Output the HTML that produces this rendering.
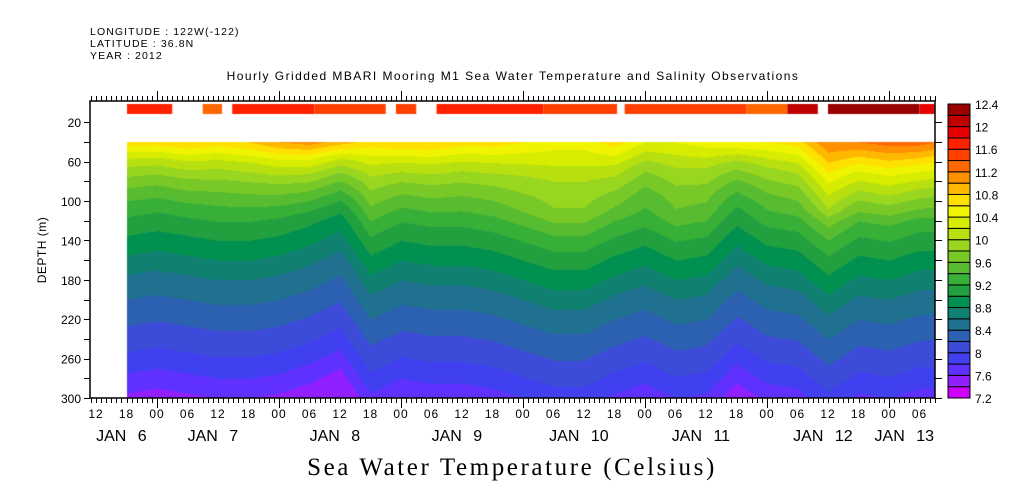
<!DOCTYPE html>
<html><head><meta charset="utf-8">
<style>
body{margin:0;background:#fff;width:1009px;height:504px;overflow:hidden;font-family:"Liberation Sans",sans-serif;}
#wrap{position:relative;width:1009px;height:504px;}
canvas{position:absolute;left:0;top:0;}
svg{position:absolute;left:0;top:0;}
</style></head><body>
<div id="wrap">
<canvas id="field" width="1009" height="504"></canvas>
<svg id="ax" width="1009" height="504">
<text x="90" y="35" font-size="10.5" letter-spacing="1.1">LONGITUDE : 122W(-122)</text>
<text x="90" y="47" font-size="10.5" letter-spacing="1.1">LATITUDE : 36.8N</text>
<text x="90" y="59" font-size="10.5" letter-spacing="1.1">YEAR : 2012</text>
<text x="513" y="80" font-size="12" letter-spacing="1.45" text-anchor="middle">Hourly Gridded MBARI Mooring M1 Sea Water Temperature and Salinity Observations</text>
<text x="46" y="250" font-size="12" letter-spacing="0.5" text-anchor="middle" transform="rotate(-90 46 250)">DEPTH (m)</text>
<text x="512" y="475" font-size="25" font-family="Liberation Serif, serif" letter-spacing="2.6" text-anchor="middle">Sea Water Temperature (Celsius)</text>
</svg>
</div>
<script>
// ---- data ----
const times = [18,24,30,36,42,48,54,60,66,72,78,84,90,96,102,108,114,120,126,132,138,144,150,156,162,168,174,177];
const heave = [0,-5,0,5,5,0,-10,-25,20,5,10,10,15,25,35,35,20,10,25,20,-10,10,15,40,20,25,15,15];
const surfAnom = [0,0,0.1,0,0.1,0.3,0.4,0.2,0,0.1,0.1,0,0,-0.1,-0.2,-0.2,0,-0.3,-0.3,-0.2,-0.1,-0.1,0,0.5,0.5,0.6,0.6,0.5];
const baseDepths = [40,60,80,100,120,140,160,180,200,220,240,260,280,300];
const baseTemps = [10.7,10.1,9.7,9.4,9.15,8.95,8.75,8.55,8.4,8.25,8.1,7.95,7.75,7.55];
const sstStart = [18,33,38.8,55,71,79,100,116,140,148,156,174];
const sstEnd   = [27,36.8,55,69,75,100,114.5,140,148,154,174,177];
const sstVal   = [11.7,11.3,11.6,11.5,11.5,11.7,11.5,11.5,11.3,12.0,12.3,11.9];
const levels = [7.2,7.4,7.6,7.8,8.0,8.2,8.4,8.6,8.8,9.0,9.2,9.4,9.6,9.8,10.0,10.2,10.4,10.6,10.8,11.0,11.2,11.4,11.6,11.8,12.0,12.2,12.4];
const colors = ["#cc00ff","#9020ff","#6030ff","#4040f0","#3c4cd8","#2c60b0","#207090","#108070","#009050","#22a040","#38b038","#58bc30","#78c828","#98d620","#b8e010","#d6ec00","#f0f400","#ffe000","#ffb800","#ff9000","#ff6800","#ff4000","#ff2000","#e80000","#c00000","#990000"];
const xTickLabels = ["12","18","00","06","12","18","00","06","12","18","00","06","12","18","00","06","12","18","00","06","12","18","00","06","12","18","00","06"];
const dateLabels = ["JAN  6","JAN  7","JAN  8","JAN  9","JAN 10","JAN 11","JAN 12","JAN 13"];
const dateHours = [17,35,59,83,107,131,155,171];
const yTicks = [20,60,100,140,180,220,260,300];
const cbLabels = ["7.2","7.6","8","8.4","8.8","9.2","9.6","10","10.4","10.8","11.2","11.6","12","12.4"];

// ---- scales ----
const X0=90, X1=935, Y0=101, Y1=398;
function xs(h){return 157+(h-24)*122/24;}
function ys(d){return 102.5+d*0.985;}
function interp(arrX,arrY,v){
  if(v<=arrX[0])return arrY[0];
  for(let i=1;i<arrX.length;i++){if(v<=arrX[i]){const f=(v-arrX[i-1])/(arrX[i]-arrX[i-1]);return arrY[i-1]+f*(arrY[i]-arrY[i-1]);}}
  return arrY[arrY.length-1];
}
function colorFor(t){let i=0;while(i<colors.length-1&&t>=levels[i+1])i++;return colors[i];}
function hexRGB(h){return [parseInt(h.substr(1,2),16),parseInt(h.substr(3,2),16),parseInt(h.substr(5,2),16)];}

// ---- field ----
const cv=document.getElementById('field');const ctx=cv.getContext('2d');
ctx.fillStyle="#fff";ctx.fillRect(0,0,1009,504);
const img=ctx.getImageData(0,0,1009,504);
const xa=Math.round(xs(times[0])), xb=X1;
const yTop=Math.round(ys(40));
for(let x=xa;x<xb;x++){
  const h=24+(x-157)*24/122;
  const hv=interp(times,heave,h), sa=interp(times,surfAnom,h);
  for(let y=yTop;y<Y1;y++){
    const d=(y-102.5)/0.985;
    const sc=Math.max(0,Math.min(1,(d-40)/70));
    let t=interp(baseDepths,baseTemps,d-hv*sc);
    const w=Math.max(0,1-(d-40)/80);
    t+=sa*w;
    const c=hexRGB(colorFor(t));const k=(y*1009+x)*4;
    img.data[k]=c[0];img.data[k+1]=c[1];img.data[k+2]=c[2];img.data[k+3]=255;
  }
}
ctx.putImageData(img,0,0);
for(let i=0;i<sstStart.length;i++){
  ctx.fillStyle=colorFor(sstVal[i]);
  const a=Math.max(xs(sstStart[i]),xa),b=Math.min(xs(sstEnd[i]),X1);
  ctx.fillRect(a,104,b-a,10);
}

// ---- axes ----
const NS="http://www.w3.org/2000/svg";const svg=document.getElementById('ax');
function el(tag,attrs,txt){const e=document.createElementNS(NS,tag);for(const k in attrs)e.setAttribute(k,attrs[k]);if(txt!==undefined)e.textContent=txt;svg.appendChild(e);return e;}
let e;
e=el('rect',{x:X0,y:Y0,width:X1-X0,height:Y1-Y0,fill:'none',stroke:'#000','stroke-width':1.5});


const hStart=Math.ceil(24+(X0-157)*24/122), hEnd=Math.floor(24+(X1-157)*24/122);
let p='';
for(let h=hStart;h<=hEnd;h++){
  const x=Math.round(xs(h))+0.5;const major=(h%24===0);
  p+=`M${x} ${Y1}V${Y1+(major?10:5)}M${x} ${Y0}V${Y0-(major?10:5)}`;
}
for(let d=20;d<=300;d+=20){const y=Math.round(ys(d))+0.5;
  p+=`M${X0} ${y}H${X0-6}M${X1} ${y}H${X1+7}`;}
e=el('path',{d:p,stroke:'#000','stroke-width':1,fill:'none'});


for(let i=0;i<xTickLabels.length;i++){
  const h=12+6*i;
  e=el('text',{x:xs(h),y:418,'font-size':12,'letter-spacing':1,'text-anchor':'middle'},xTickLabels[i]);
  
  
}
for(let i=0;i<dateLabels.length;i++){
  e=el('text',{x:xs(dateHours[i]),y:441,'font-size':16,'text-anchor':'middle','xml:space':'preserve','word-spacing':7},dateLabels[i]);
  
  
}
for(let i=0;i<yTicks.length;i++){
  e=el('text',{x:X0-9,y:ys(yTicks[i])+5,'font-size':12,'text-anchor':'end'},String(yTicks[i]));
  
  
}
const cbTop=104,cbBot=398,cbH=(cbBot-cbTop)/colors.length;
for(let i=0;i<colors.length;i++){
  e=el('rect',{x:948,y:cbBot-(i+1)*cbH,width:22,height:cbH,fill:colors[i],stroke:'#000','stroke-width':1});
  
  
}
for(let i=0;i<cbLabels.length;i++){
  e=el('text',{x:975,y:cbBot-i*2*cbH+5,'font-size':12},cbLabels[i]);
  
  
}
</script>
</body></html>
